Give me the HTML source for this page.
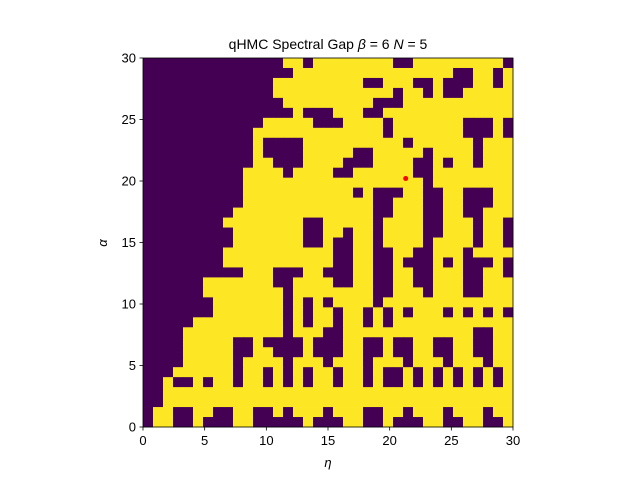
<!DOCTYPE html>
<html>
<head>
<meta charset="utf-8">
<style>
  html,body{margin:0;padding:0;background:#fff;}
  svg{display:block;}
  text{font-family:"Liberation Sans","DejaVu Sans",sans-serif;fill:#000;}
</style>
</head>
<body>
<svg id="chart" width="640" height="480" viewBox="0 0 640 480">
  <rect x="0" y="0" width="640" height="480" fill="#fff"/>
  <g id="cells"></g>
  <g id="axes"></g>
  <text x="328" y="49" font-size="14" text-anchor="middle">qHMC Spectral Gap <tspan font-style="italic">β</tspan> =  6 <tspan font-style="italic">N</tspan> = 5</text>
  <text x="328" y="467" font-size="13" font-style="italic" text-anchor="middle">η</text>
  <text x="107" y="243" font-size="13" font-style="italic" text-anchor="middle" transform="rotate(-90 107 243)">α</text>
</svg>
<script>
// grid dimensions (37 x 37 cells covering 0..30 on both axes)
const nCols = 37;
const nRows = 37;
// first yellow column index per row (row 0 = top, alpha = 30)
const leftEdge = [14,15,13,13,14,15,12,11,11,11,11,10,10,10,10,9,8,9,9,8,8,10,6,6,7,7,5,4,4,4,4,3,2,2,2,1,1];
// purple regions: [row, colStart, colEnd]
const blobs = [
[0,16,16],[0,25,26],[0,36,36],
[1,31,32],[1,35,35],
[2,22,23],[2,27,28],[2,30,32],[2,35,35],
[3,28,28],[3,30,31],[3,25,25],
[4,23,25],
[5,16,18],[5,22,23],
[6,17,19],[6,24,24],[6,32,34],[6,36,36],
[7,24,24],[7,32,34],[7,36,36],
[8,12,15],[8,26,26],[8,33,33],
[9,12,15],[9,21,22],[9,28,28],[9,33,33],
[10,13,15],[10,20,22],[10,27,28],[10,30,30],[10,33,33],
[11,14,14],[11,19,20],[11,27,28],
[12,28,28],
[13,21,21],[13,23,25],[13,28,29],[13,32,34],
[14,23,24],[14,28,29],[14,32,34],
[15,23,24],[15,28,29],[15,32,33],
[16,16,17],[16,23,23],[16,28,29],[16,33,33],[16,36,36],
[17,16,17],[17,20,20],[17,23,23],[17,28,29],[17,33,33],[17,36,36],
[18,16,17],[18,19,20],[18,23,23],[18,28,28],[18,33,33],[18,36,36],
[19,19,20],[19,23,24],[19,27,28],[19,32,32],
[20,19,20],[20,23,24],[20,26,26],[20,27,28],[20,30,30],[20,32,33],[20,34,34],[20,36,36],
[21,13,15],[21,18,18],[21,19,20],[21,23,24],[21,27,28],[21,32,33],[21,36,36],
[22,13,14],[22,19,20],[22,23,24],[22,27,28],[22,32,33],
[23,14,14],[23,23,24],[23,28,28],[23,32,33],
[24,14,14],[24,16,16],[24,18,18],[24,23,23],
[25,14,14],[25,16,16],[25,19,19],[25,22,22],[25,24,24],[25,26,26],[25,30,30],[25,32,32],[25,34,34],[25,36,36],
[26,14,14],[26,16,16],[26,19,19],[26,22,22],[26,24,24],
[27,14,14],[27,18,19],[27,33,34],
[28,9,10],[28,12,12],[28,13,15],[28,17,19],[28,22,23],[28,25,26],[28,29,30],[28,33,34],
[29,9,10],[29,13,15],[29,17,19],[29,22,23],[29,25,26],[29,29,30],[29,33,34],
[30,9,9],[30,14,14],[30,18,18],[30,22,22],[30,26,26],[30,30,30],[30,34,34],
[31,9,9],[31,12,12],[31,14,14],[31,16,16],[31,19,19],[31,22,22],[31,24,24],[31,25,25],[31,27,27],[31,29,29],[31,31,31],[31,33,33],[31,35,35],
[32,3,4],[32,6,6],[32,9,9],[32,12,12],[32,14,14],[32,16,16],[32,19,19],[32,22,22],[32,24,24],[32,25,25],[32,27,27],[32,29,29],[32,31,31],[32,33,33],[32,35,35],
[35,3,4],[35,7,8],[35,11,12],[35,14,14],[35,18,18],[35,22,23],[35,26,26],[35,30,30],[35,34,34],
[36,3,4],[36,6,6],[36,7,8],[36,11,12],[36,13,15],[36,17,19],[36,22,23],[36,25,25],[36,26,27],[36,30,31],[36,34,35]
];
// highlighted point [eta, alpha]
const markerPoint = [21.3, 20.2];
const xTicks = [0,5,10,15,20,25,30];
const yTicks = [0,5,10,15,20,25,30];
const xMin = 0, xMax = 30, yMin = 0, yMax = 30;

const X0 = 143, X1 = 513, Y0 = 427, Y1 = 58;
function xScale(v){ return X0 + (v - xMin) / (xMax - xMin) * (X1 - X0); }
function yScale(v){ return Y0 - (v - yMin) / (yMax - yMin) * (Y0 - Y1); }

const NS = "http://www.w3.org/2000/svg";
const PURPLE = "#440154", YELLOW = "#fde725";

const grid = [];
for (let r = 0; r < nRows; r++) {
  const row = [];
  for (let c = 0; c < nCols; c++) row.push(c >= leftEdge[r] ? 1 : 0);
  grid.push(row);
}
blobs.forEach(b => { for (let c = b[1]; c <= b[2]; c++) if (grid[b[0]] && c < nCols) grid[b[0]][c] = 0; });

const cellsG = document.getElementById('cells');
const dx = (xMax - xMin) / nCols, dy = (yMax - yMin) / nRows;
for (let r = 0; r < nRows; r++) {
  for (let c = 0; c < nCols; c++) {
    const x0 = xScale(xMin + c * dx), x1 = xScale(xMin + (c + 1) * dx);
    const yTop = yScale(yMax - r * dy), yBot = yScale(yMax - (r + 1) * dy);
    const rect = document.createElementNS(NS, 'rect');
    rect.setAttribute('x', x0);
    rect.setAttribute('y', yTop);
    rect.setAttribute('width', x1 - x0 + 0.4);
    rect.setAttribute('height', yBot - yTop + 0.4);
    rect.setAttribute('fill', grid[r][c] ? YELLOW : PURPLE);
    
    
    cellsG.appendChild(rect);
  }
}

const dot = document.createElementNS(NS, 'circle');
dot.setAttribute('cx', xScale(markerPoint[0]));
dot.setAttribute('cy', yScale(markerPoint[1]));
dot.setAttribute('r', 2.5);
dot.setAttribute('fill', '#ff0000');


cellsG.appendChild(dot);

const axesG = document.getElementById('axes');
const frame = document.createElementNS(NS, 'rect');
frame.setAttribute('x', X0); frame.setAttribute('y', Y1);
frame.setAttribute('width', X1 - X0); frame.setAttribute('height', Y0 - Y1);
frame.setAttribute('fill', 'none'); frame.setAttribute('stroke', '#000'); frame.setAttribute('stroke-width', '0.8');


axesG.appendChild(frame);

xTicks.forEach(v => {
  const x = xScale(v);
  const t = document.createElementNS(NS, 'line');
  t.setAttribute('x1', x); t.setAttribute('x2', x); t.setAttribute('y1', Y0); t.setAttribute('y2', Y0 + 3.5);
  t.setAttribute('stroke', '#000'); t.setAttribute('stroke-width', '0.8');
  
  
  axesG.appendChild(t);
  const lb = document.createElementNS(NS, 'text');
  lb.setAttribute('x', x); lb.setAttribute('y', Y0 + 18);
  lb.setAttribute('font-size', '13'); lb.setAttribute('text-anchor', 'middle');
  lb.textContent = v;
  
  
  axesG.appendChild(lb);
});
yTicks.forEach(v => {
  const y = yScale(v);
  const t = document.createElementNS(NS, 'line');
  t.setAttribute('x1', X0 - 3.5); t.setAttribute('x2', X0); t.setAttribute('y1', y); t.setAttribute('y2', y);
  t.setAttribute('stroke', '#000'); t.setAttribute('stroke-width', '0.8');
  
  
  axesG.appendChild(t);
  const lb = document.createElementNS(NS, 'text');
  lb.setAttribute('x', X0 - 7); lb.setAttribute('y', y + 4.5);
  lb.setAttribute('font-size', '13'); lb.setAttribute('text-anchor', 'end');
  lb.textContent = v;
  
  
  axesG.appendChild(lb);
});
</script>
</body>
</html>
